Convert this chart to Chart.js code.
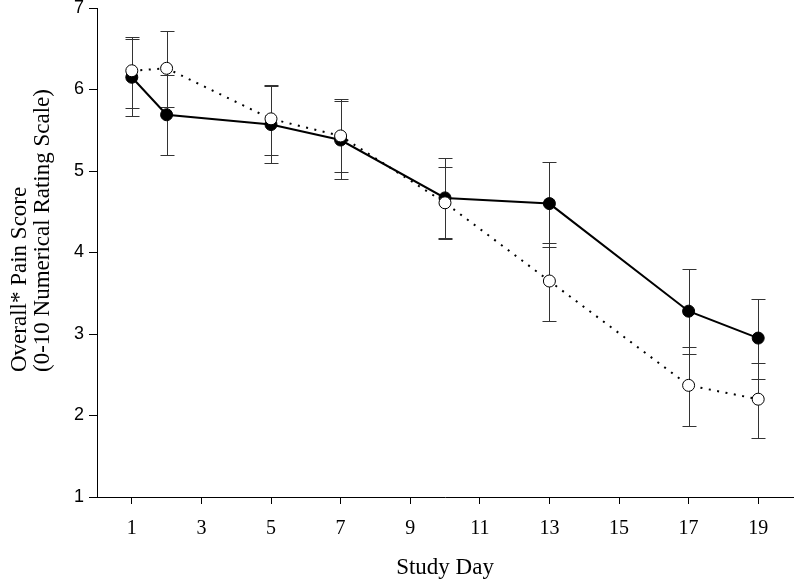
<!DOCTYPE html>
<html>
<head>
<meta charset="utf-8">
<script src="https://cdn.jsdelivr.net/npm/chart.js@4/dist/chart.umd.min.js"></script>
<style>
  html, body { margin: 0; padding: 0; background: #fff; }
</style>
</head>
<body>
<canvas id="painChart" width="800" height="584"></canvas>
<script>
// DATA
const studyDays = [1, 2, 5, 7, 10, 13, 17, 19];
const dayTicks = [1, 3, 5, 7, 9, 11, 13, 15, 17, 19];

// filled circles, solid line
const filledMean = [6.15, 5.69, 5.57, 5.38, 4.67, 4.60, 3.28, 2.95];
const filledLow  = [5.67, 5.20, 5.10, 4.90, 4.17, 4.07, 2.75, 2.45];
const filledHigh = [6.62, 6.18, 6.04, 5.86, 5.16, 5.11, 3.80, 3.43];

// open circles, dotted line
const openMean = [6.23, 6.26, 5.64, 5.43, 4.61, 3.65, 2.37, 2.20];
const openLow  = [5.77, 5.79, 5.20, 4.99, 4.18, 3.16, 1.87, 1.72];
const openHigh = [6.64, 6.72, 6.06, 5.88, 5.05, 4.12, 2.84, 2.64];

const yTitleLines = ["Overall* Pain Score", "(0-10 Numerical Rating Scale)"];

const serif = "'Liberation Serif', 'Times New Roman', serif";
const toPoints = (vals) => studyDays.map((d, i) => ({ x: d, y: vals[i] }));

// ERROR BARS (drawn under the lines and points)
const errorBars = {
  id: "errorBars",
  beforeDatasetsDraw(chart) {
    const { ctx, scales: { x, y } } = chart;
    ctx.save();
    ctx.strokeStyle = "#333";
    ctx.lineWidth = 1;
    [[filledLow, filledHigh], [openLow, openHigh]].forEach(([lo, hi]) => {
      studyDays.forEach((d, i) => {
        const px = Math.round(x.getPixelForValue(d)) + 0.5;
        const yl = Math.round(y.getPixelForValue(lo[i])) + 0.5;
        const yh = Math.round(y.getPixelForValue(hi[i])) + 0.5;
        ctx.beginPath();
        ctx.moveTo(px, yh);
        ctx.lineTo(px, yl);
        ctx.moveTo(px - 7, yh);
        ctx.lineTo(px + 7, yh);
        ctx.moveTo(px - 7, yl);
        ctx.lineTo(px + 7, yl);
        ctx.stroke();
      });
    });
    ctx.restore();
  }
};

// Y TITLE: two rotated lines, both starting at the same height
const yTitle = {
  id: "yTitle",
  afterDraw(chart) {
    const c = chart.ctx;
    c.save();
    c.font = "23px " + serif;
    c.fillStyle = "#000";
    c.textAlign = "left";
    c.textBaseline = "middle";
    [20, 43].forEach((cx, i) => {
      c.save();
      c.translate(cx, 372);
      c.rotate(-Math.PI / 2);
      c.fillText(yTitleLines[i], 0, 0);
      c.restore();
    });
    c.restore();
  }
};

const ctx = document.getElementById("painChart");

new Chart(ctx, {
  type: "line",
  data: {
    datasets: [
      {
        label: "Open",
        data: toPoints(openMean),
        borderColor: "#000",
        borderWidth: 2,
        borderDash: [2, 6.5],
        pointRadius: 6,
        pointBorderWidth: 1,
        pointBackgroundColor: "#fff",
        pointBorderColor: "#000",
        tension: 0,
        order: 0
      },
      {
        label: "Filled",
        data: toPoints(filledMean),
        borderColor: "#000",
        borderWidth: 2,
        pointRadius: 6,
        pointBorderWidth: 1,
        pointBackgroundColor: "#000",
        pointBorderColor: "#000",
        tension: 0,
        order: 1
      }
    ]
  },
  options: {
    responsive: false,
    animation: false,
    devicePixelRatio: 1,
    layout: { padding: { top: 8, right: 5, left: 0, bottom: 0 } },
    plugins: {
      legend: { display: false },
      tooltip: { enabled: false }
    },
    scales: {
      x: {
        type: "linear",
        min: 0,
        max: 20,
        afterBuildTicks: (scale) => {
          scale.ticks = dayTicks.map((v) => ({ value: v }));
        },
        afterFit: (scale) => { scale.height = 87; },
        border: { display: true, color: "#000", width: 1 },
        grid: { drawOnChartArea: false, drawTicks: true, tickLength: 7, color: "#000" },
        ticks: {
          color: "#000",
          padding: 13,
          maxRotation: 0,
          font: { family: serif, size: 20 }
        },
        title: {
          display: true,
          text: "Study Day",
          color: "#000",
          padding: { top: 0, bottom: 3 },
          font: { family: serif, size: 23, lineHeight: 1.1 }
        }
      },
      y: {
        min: 1,
        max: 7,
        afterFit: (scale) => {
          scale.width = 97;
          scale.paddingTop = 0;
          scale.paddingBottom = 0;
        },
        border: { display: true, color: "#000", width: 1 },
        grid: { drawOnChartArea: false, drawTicks: true, tickLength: 8, color: "#000" },
        ticks: {
          stepSize: 1,
          color: "#000",
          padding: 5,
          font: { family: "'Liberation Sans', Arial, sans-serif", size: 18 }
        }
      }
    }
  },
  plugins: [errorBars, yTitle]
});
</script>
</body>
</html>
